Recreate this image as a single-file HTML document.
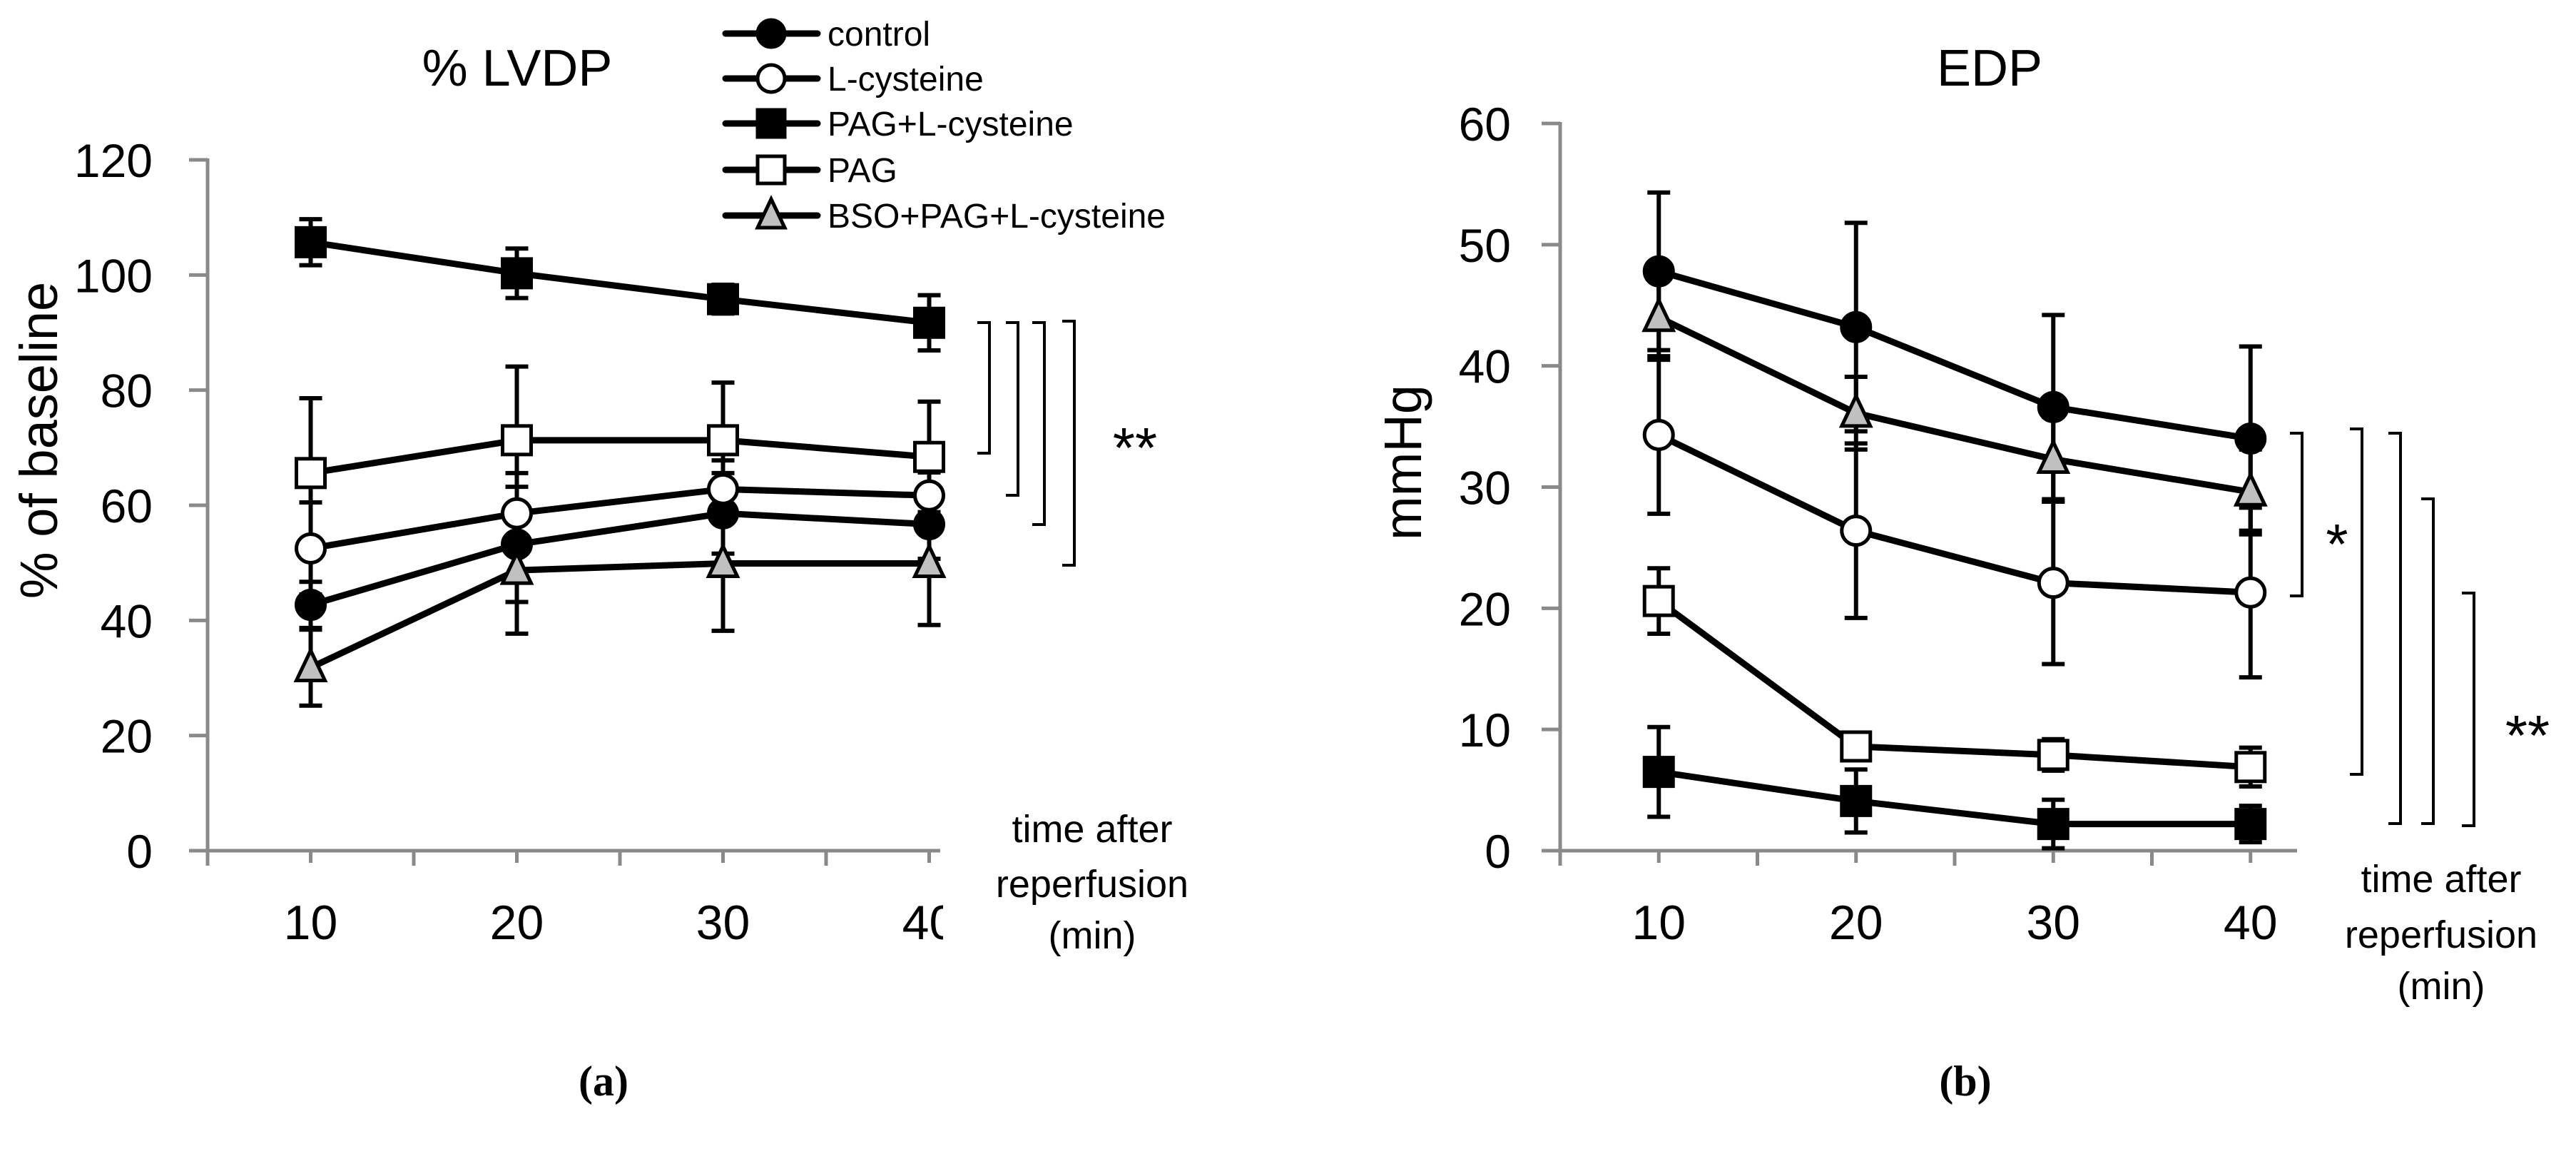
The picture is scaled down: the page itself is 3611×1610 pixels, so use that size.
<!DOCTYPE html>
<html><head><meta charset="utf-8"><style>
html,body{margin:0;padding:0;background:#fff;}
svg{display:block;font-family:"Liberation Sans",sans-serif;}
</style></head><body>
<svg id="fig" width="3611" height="1610" viewBox="0 0 3611 1610" xmlns="http://www.w3.org/2000/svg">
<defs><clipPath id="clipA"><rect x="0" y="0" width="1322" height="1610"/></clipPath></defs>
<g id="panelA"></g>
<g id="panelB"></g>
<g id="legend"></g>
</svg>
<script>
const categories = [10, 20, 30, 40];
const seriesNames = ["control", "L-cysteine", "PAG+L-cysteine", "PAG", "BSO+PAG+L-cysteine"];
const seriesMarkers = ["filled-circle", "open-circle", "filled-square", "open-square", "triangle"];
// Panel a: % LVDP
const lvdpControl = [42.7, 53.2, 58.6, 56.7];
const lvdpControlErr = [4, 10, 7, 6];
const lvdpLcys = [52.5, 58.6, 62.8, 61.7];
const lvdpLcysErr = [8, 7, 5, 4];
const lvdpPagLcys = [105.7, 100.3, 95.8, 91.7];
const lvdpPagLcysErr = [4, 4.3, 2.5, 4.8];
const lvdpPag = [65.6, 71.3, 71.3, 68.4];
const lvdpPagErr = [13, 12.8, 10, 9.6];
const lvdpBso = [31.8, 48.7, 49.9, 49.9];
const lvdpBsoErr = [6.6, 11, 11.7, 10.7];
const lvdpTicks = [0, 20, 40, 60, 80, 100, 120];
// Panel b: EDP
const edpControl = [47.8, 43.2, 36.6, 34.0];
const edpControlErr = [6.5, 8.6, 7.6, 7.6];
const edpLcys = [34.3, 26.4, 22.1, 21.3];
const edpLcysErr = [6.5, 7.2, 6.7, 7.0];
const edpPagLcys = [6.5, 4.1, 2.2, 2.2];
const edpPagLcysErr = [3.7, 2.6, 2.0, 1.5];
const edpPag = [20.6, 8.6, 7.9, 6.9];
const edpPagErr = [2.7, 0.8, 1.3, 1.6];
const edpBso = [44.0, 36.1, 32.3, 29.6];
const edpBsoErr = [3.5, 3.0, 3.5, 3.5];
const edpTicks = [0, 10, 20, 30, 40, 50, 60];

const NS = "http://www.w3.org/2000/svg";
function mk(tag, attrs, parent) {
  const e = document.createElementNS(NS, tag);
  for (const k in attrs) e.setAttribute(k, attrs[k]);
  parent.appendChild(e);
  return e;
}
function marker(g, type, cx, cy, s) {
  let e;
  const h = s / 2;
  if (type === "filled-circle" || type === "open-circle") {
    e = mk("circle", {cx: cx, cy: cy, r: h, fill: type === "filled-circle" ? "#000" : "#fff", stroke: "#000", "stroke-width": 5}, g);
  } else if (type === "filled-square" || type === "open-square") {
    e = mk("rect", {x: cx - h, y: cy - h, width: s, height: s, fill: type === "filled-square" ? "#000" : "#fff", stroke: "#000", "stroke-width": 5}, g);
  } else {
    e = mk("polygon", {points: (cx) + "," + (cy - h - 4) + " " + (cx + h) + "," + (cy + h - 2) + " " + (cx - h) + "," + (cy + h - 2), fill: "#c0c0c0", stroke: "#000", "stroke-width": 5, "stroke-linejoin": "miter"}, g);
  }
  return e;
}

function drawPanel(g, cfg) {
  const x = i => cfg.x0 + cfg.bw * (i + 0.5);
  const y = v => cfg.yBase - (v - cfg.ticks[0]) / (cfg.ticks[cfg.ticks.length - 1] - cfg.ticks[0]) * (cfg.yBase - cfg.yTop);
  const axisCol = "#898989";
  const ax = mk("g", {}, g);
  
  
  mk("line", {x1: cfg.x0, y1: cfg.yTop - 2, x2: cfg.x0, y2: cfg.yBase + 21, stroke: axisCol, "stroke-width": 5}, ax);
  mk("line", {x1: cfg.x0 - 26, y1: cfg.yBase, x2: cfg.xEnd, y2: cfg.yBase, stroke: axisCol, "stroke-width": 5}, ax);
  cfg.ticks.forEach(t => {
    mk("line", {x1: cfg.x0 - 26, y1: y(t), x2: cfg.x0, y2: y(t), stroke: axisCol, "stroke-width": 5}, ax);
    const tl = mk("text", {x: cfg.labelRight, y: y(t) + 24, "text-anchor": "end", "font-size": 66, fill: "#000"}, ax);
    tl.textContent = t;
    
    
  });
  for (let i = 1; i * cfg.bw + cfg.x0 < cfg.xEnd; i++) {
    mk("line", {x1: cfg.x0 + i * cfg.bw, y1: cfg.yBase, x2: cfg.x0 + i * cfg.bw, y2: cfg.yBase + 21, stroke: axisCol, "stroke-width": 5}, ax);
  }
  const xl = mk("g", cfg.clip ? {"clip-path": "url(#clipA)"} : {}, ax);
  categories.forEach((c, i) => {
    mk("line", {x1: x(i), y1: cfg.yBase, x2: x(i), y2: cfg.yBase + 17, stroke: axisCol, "stroke-width": 5}, ax);
    const t = mk("text", {x: x(i), y: cfg.yBase + 124, "text-anchor": "middle", "font-size": 68, fill: "#000"}, xl);
    t.textContent = c;
    
    
  });
  // series
  const lines = mk("g", {}, g);
  const marks = mk("g", {}, g);
  cfg.series.forEach((s, si) => {
    const sg = mk("g", {}, lines);
    
    
    s.vals.forEach((v, i) => {
      const e = s.err[i];
      mk("line", {x1: x(i), y1: y(v + e), x2: x(i), y2: y(v - e), stroke: "#000", "stroke-width": 6}, sg);
      mk("line", {x1: x(i) - 16, y1: y(v + e), x2: x(i) + 16, y2: y(v + e), stroke: "#000", "stroke-width": 6}, sg);
      mk("line", {x1: x(i) - 16, y1: y(v - e), x2: x(i) + 16, y2: y(v - e), stroke: "#000", "stroke-width": 6}, sg);
    });
    const pts = s.vals.map((v, i) => x(i) + "," + y(v)).join(" ");
    const pl = mk("polyline", {points: pts, fill: "none", stroke: "#000", "stroke-width": 9, "stroke-linejoin": "round"}, sg);
    
    
    s.vals.forEach((v, i) => {
      const m = marker(marks, seriesMarkers[si], x(i), y(v), 40);
      
      
    });
  });
}

const gA = document.getElementById("panelA");
drawPanel(gA, {x0: 291, bw: 289, xEnd: 1318, yBase: 1192, yTop: 224, ticks: lvdpTicks, labelRight: 214, clip: true,
  series: [
    {vals: lvdpControl, err: lvdpControlErr},
    {vals: lvdpLcys, err: lvdpLcysErr},
    {vals: lvdpPagLcys, err: lvdpPagLcysErr},
    {vals: lvdpPag, err: lvdpPagErr},
    {vals: lvdpBso, err: lvdpBsoErr}
  ]});
const gB = document.getElementById("panelB");
drawPanel(gB, {x0: 2187, bw: 276.5, xEnd: 3220, yBase: 1192, yTop: 173, ticks: edpTicks, labelRight: 2118, clip: false,
  series: [
    {vals: edpControl, err: edpControlErr},
    {vals: edpLcys, err: edpLcysErr},
    {vals: edpPagLcys, err: edpPagLcysErr},
    {vals: edpPag, err: edpPagErr},
    {vals: edpBso, err: edpBsoErr}
  ]});

// legend
const lg = document.getElementById("legend");
const rowsY = [47, 110, 173, 238, 302];
seriesNames.forEach((n, i) => {
  const r = mk("g", {}, lg);
  
  
  mk("line", {x1: 1017, y1: rowsY[i], x2: 1146, y2: rowsY[i], stroke: "#000", "stroke-width": 9, "stroke-linecap": "round"}, r);
  marker(r, seriesMarkers[i], 1081, rowsY[i], 38);
  const t = mk("text", {x: 1160, y: rowsY[i] + 17, "font-size": 48, fill: "#000"}, r);
  t.textContent = n;
});

// static texts and brackets
function txt(parent, s, x, y, size, name, extra) {
  const t = mk("text", Object.assign({x: x, y: y, "font-size": size, fill: "#000", "text-anchor": "middle"}, extra || {}), parent);
  t.textContent = s;
  
  
  return t;
}
const svg = document.getElementById("fig");
txt(svg, "% LVDP", 725, 120, 72, "panel-a-title");
txt(svg, "EDP", 2789, 120, 72, "panel-b-title");
txt(svg, "% of baseline", 0, 0, 74, "y-axis-title-a", {transform: "translate(80,617) rotate(-90)"});
txt(svg, "mmHg", 0, 0, 74, "y-axis-title-b", {transform: "translate(1992,648) rotate(-90)"});
[["time after", 1180], ["reperfusion", 1257], ["(min)", 1329]].forEach(a => txt(svg, a[0], 1531, a[1], 54, "x-axis-title-a"));
[["time after", 1250], ["reperfusion", 1328], ["(min)", 1400]].forEach(a => txt(svg, a[0], 3422, a[1], 54, "x-axis-title-b"));
txt(svg, "(a)", 846, 1535, 60, "panel-a-label", {"font-family": "Liberation Serif, serif", "font-weight": "bold"});
txt(svg, "(b)", 2755, 1535, 60, "panel-b-label", {"font-family": "Liberation Serif, serif", "font-weight": "bold"});
function bracket(x, y1, y2) {
  const p = mk("polyline", {points: (x - 17) + "," + y1 + " " + x + "," + y1 + " " + x + "," + y2 + " " + (x - 17) + "," + y2, fill: "none", stroke: "#000", "stroke-width": 4}, svg);
  
  
}
bracket(1387, 452, 635); bracket(1427, 452, 694); bracket(1464, 452, 735); bracket(1506, 450, 792);
txt(svg, "**", 1591, 655, 80, "significance-a");
bracket(3227, 607, 835); bracket(3311, 601, 1085); bracket(3365, 607, 1154); bracket(3411, 699, 1154); bracket(3468, 831, 1157);
txt(svg, "*", 3276, 790, 80, "significance-b-single");
txt(svg, "**", 3543, 1058, 80, "significance-b-double");
</script>
</body></html>
